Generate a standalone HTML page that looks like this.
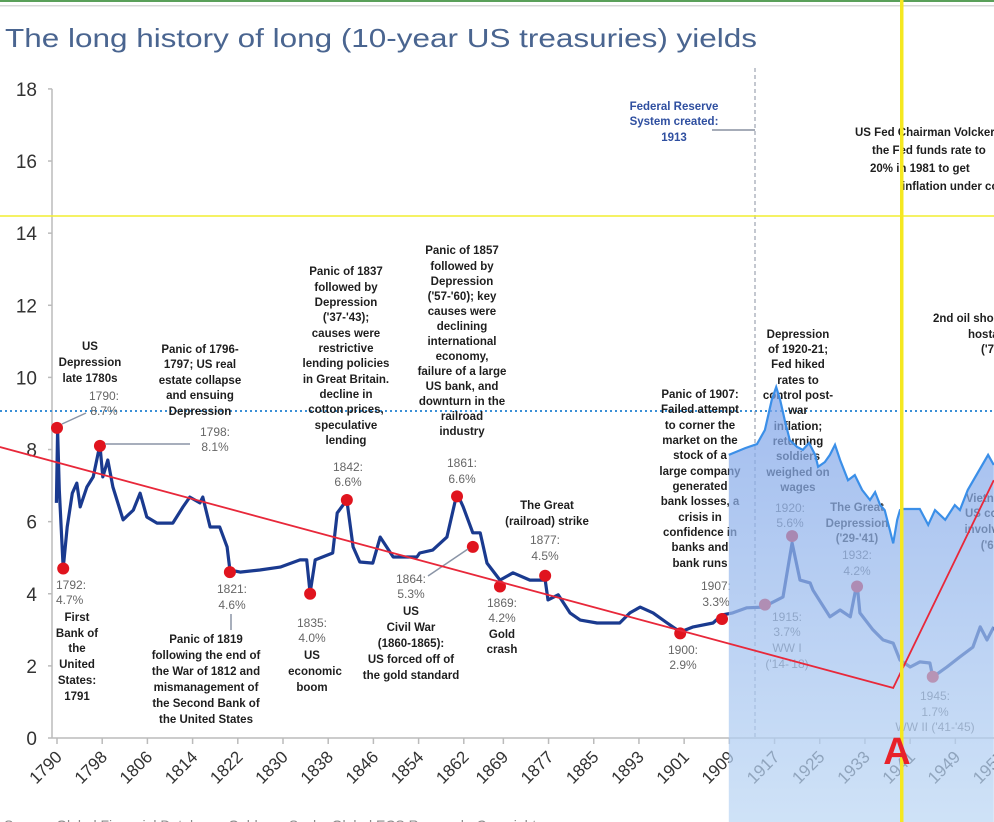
<!DOCTYPE html>
<html><head><meta charset="utf-8"><style>
html,body{margin:0;padding:0;background:#fff;overflow:hidden}
svg{display:block;font-family:"Liberation Sans",Arial,sans-serif}
.ann{font-size:11.5px;font-weight:bold;fill:#1e1e1e;text-anchor:middle}
.lab{font-size:12px;fill:#666;text-anchor:middle}
.fed{font-size:11.5px;font-weight:bold;fill:#2f4fa0;text-anchor:middle}
</style></head><body>
<svg id="chart" width="994" height="822" viewBox="0 0 994 822">
<rect x="0" y="0" width="994" height="2" fill="#5aa05a"/>
<rect x="0" y="5" width="994" height="1.5" fill="#d8d8d8"/>
<text x="5" y="47" font-size="26" fill="#4a6590" textLength="752" lengthAdjust="spacingAndGlyphs">The long history of long (10-year US treasuries) yields</text>
<g id="axes"></g>
<line x1="0" y1="411" x2="994" y2="411" stroke="#3a8fd6" stroke-width="2" stroke-dasharray="2,3"/>
<line x1="755" y1="68" x2="755" y2="738" stroke="#8890a0" stroke-width="1" stroke-dasharray="4,3"/>
<line x1="712" y1="130" x2="755" y2="130" stroke="#8890a0" stroke-width="1.5"/>
<g id="series"></g>
<g>
<text class="fed"><tspan x="674" y="110">Federal Reserve</tspan><tspan x="674" y="125">System created:</tspan><tspan x="674" y="141">1913</tspan></text>
<text class="ann" style="text-anchor:start"><tspan x="855" y="136">US Fed Chairman Volcker raised</tspan><tspan x="872" y="154">the Fed funds rate to</tspan><tspan x="870" y="172">20% in 1981 to get</tspan><tspan x="902" y="190">inflation under control</tspan></text>
<text class="ann" style="text-anchor:start"><tspan x="933" y="322">2nd oil shock;</tspan><tspan x="968" y="338">hostages</tspan><tspan x="981" y="353">('79</tspan></text>
<text class="ann"><tspan x="90" y="350">US</tspan><tspan x="90" y="366">Depression</tspan><tspan x="90" y="382">late 1780s</tspan></text>
<text class="lab"><tspan x="104" y="400">1790:</tspan><tspan x="104" y="415">8.7%</tspan></text>
<line x1="62" y1="424" x2="86" y2="413" stroke="#8a94a6" stroke-width="1.5"/>
<text class="ann"><tspan x="200" y="353">Panic of 1796-</tspan><tspan x="200" y="368">1797; US real</tspan><tspan x="200" y="384">estate collapse</tspan><tspan x="200" y="399">and ensuing</tspan><tspan x="200" y="415">Depression</tspan></text>
<text class="lab"><tspan x="215" y="436">1798:</tspan><tspan x="215" y="451">8.1%</tspan></text>
<line x1="105" y1="444" x2="190" y2="444" stroke="#8a94a6" stroke-width="1.5"/>
<text class="ann"><tspan x="346" y="275">Panic of 1837</tspan><tspan x="346" y="291">followed by</tspan><tspan x="346" y="306">Depression</tspan><tspan x="346" y="321">('37-'43);</tspan><tspan x="346" y="337">causes were</tspan><tspan x="346" y="352">restrictive</tspan><tspan x="346" y="367">lending policies</tspan><tspan x="346" y="383">in Great Britain.</tspan><tspan x="346" y="398">decline in</tspan><tspan x="346" y="413">cotton prices,</tspan><tspan x="346" y="429">speculative</tspan><tspan x="346" y="444">lending</tspan></text>
<text class="lab"><tspan x="348" y="471">1842:</tspan><tspan x="348" y="486">6.6%</tspan></text>
<text class="ann"><tspan x="462" y="254">Panic of 1857</tspan><tspan x="462" y="270">followed by</tspan><tspan x="462" y="285">Depression</tspan><tspan x="462" y="300">('57-'60); key</tspan><tspan x="462" y="315">causes were</tspan><tspan x="462" y="330">declining</tspan><tspan x="462" y="345">international</tspan><tspan x="462" y="360">economy,</tspan><tspan x="462" y="375">failure of a large</tspan><tspan x="462" y="390">US bank, and</tspan><tspan x="462" y="405">downturn in the</tspan><tspan x="462" y="420">railroad</tspan><tspan x="462" y="435">industry</tspan></text>
<text class="lab"><tspan x="462" y="467">1861:</tspan><tspan x="462" y="483">6.6%</tspan></text>
<text class="ann"><tspan x="547" y="509">The Great</tspan><tspan x="547" y="525">(railroad) strike</tspan></text>
<text class="lab"><tspan x="545" y="544">1877:</tspan><tspan x="545" y="560">4.5%</tspan></text>
<text class="ann"><tspan x="700" y="398">Panic of 1907:</tspan><tspan x="700" y="413">Failed attempt</tspan><tspan x="700" y="429">to corner the</tspan><tspan x="700" y="444">market on the</tspan><tspan x="700" y="459">stock of a</tspan><tspan x="700" y="475">large company</tspan><tspan x="700" y="490">generated</tspan><tspan x="700" y="505">bank losses, a</tspan><tspan x="700" y="521">crisis in</tspan><tspan x="700" y="536">confidence in</tspan><tspan x="700" y="551">banks and</tspan><tspan x="700" y="567">bank runs</tspan></text>
<text class="lab"><tspan x="716" y="590">1907:</tspan><tspan x="716" y="606">3.3%</tspan></text>
<text class="ann"><tspan x="798" y="338">Depression</tspan><tspan x="798" y="353">of 1920-21;</tspan><tspan x="798" y="368">Fed hiked</tspan><tspan x="798" y="384">rates to</tspan><tspan x="798" y="399">control post-</tspan><tspan x="798" y="414">war</tspan><tspan x="798" y="430">inflation;</tspan><tspan x="798" y="445">returning</tspan><tspan x="798" y="460">soldiers</tspan><tspan x="798" y="476">weighed on</tspan><tspan x="798" y="491">wages</tspan></text>
<text class="lab"><tspan x="790" y="512">1920:</tspan><tspan x="790" y="527">5.6%</tspan></text>
<text class="ann"><tspan x="857" y="511">The Great</tspan><tspan x="857" y="527">Depression</tspan><tspan x="857" y="542">('29-'41)</tspan></text>
<text class="lab"><tspan x="857" y="559">1932:</tspan><tspan x="857" y="575">4.2%</tspan></text>
<text class="lab"><tspan x="787" y="621">1915:</tspan><tspan x="787" y="636">3.7%</tspan><tspan x="787" y="652">WW I</tspan><tspan x="787" y="668">('14-'18)</tspan></text>
<text class="lab"><tspan x="935" y="700">1945:</tspan><tspan x="935" y="716">1.7%</tspan><tspan x="935" y="731">WW II ('41-'45)</tspan></text>
<text class="ann"><tspan x="990" y="502">Vietnam:</tspan><tspan x="995" y="517">US combat</tspan><tspan x="998" y="533">involvement</tspan><tspan x="1002" y="549">('65-'73)</tspan></text>
<text class="lab" style="text-anchor:start"><tspan x="56" y="589">1792:</tspan><tspan x="56" y="604">4.7%</tspan></text>
<text class="ann"><tspan x="77" y="621">First</tspan><tspan x="77" y="637">Bank of</tspan><tspan x="77" y="652">the</tspan><tspan x="77" y="668">United</tspan><tspan x="77" y="684">States:</tspan><tspan x="77" y="700">1791</tspan></text>
<text class="lab"><tspan x="232" y="593">1821:</tspan><tspan x="232" y="609">4.6%</tspan></text>
<line x1="231" y1="614" x2="231" y2="630" stroke="#8a94a6" stroke-width="1.5"/>
<text class="ann"><tspan x="206" y="643">Panic of 1819</tspan><tspan x="206" y="659">following the end of</tspan><tspan x="206" y="675">the War of 1812 and</tspan><tspan x="206" y="691">mismanagement of</tspan><tspan x="206" y="707">the Second Bank of</tspan><tspan x="206" y="723">the United States</tspan></text>
<text class="lab"><tspan x="312" y="627">1835:</tspan><tspan x="312" y="642">4.0%</tspan></text>
<text class="ann"><tspan x="312" y="659">US</tspan><tspan x="315" y="675">economic</tspan><tspan x="312" y="691">boom</tspan></text>
<text class="lab"><tspan x="411" y="583">1864:</tspan><tspan x="411" y="598">5.3%</tspan></text>
<line x1="468" y1="549" x2="428" y2="576" stroke="#8a94a6" stroke-width="1.5"/>
<text class="ann"><tspan x="411" y="615">US</tspan><tspan x="411" y="631">Civil War</tspan><tspan x="411" y="647">(1860-1865):</tspan><tspan x="411" y="663">US forced off of</tspan><tspan x="411" y="679">the gold standard</tspan></text>
<text class="lab"><tspan x="502" y="607">1869:</tspan><tspan x="502" y="622">4.2%</tspan></text>
<text class="ann"><tspan x="502" y="638">Gold</tspan><tspan x="502" y="653">crash</tspan></text>
<text class="lab"><tspan x="683" y="654">1900:</tspan><tspan x="683" y="669">2.9%</tspan></text>
</g>
<g id="overlay"></g>
<g id="trend"></g>
<line x1="0" y1="216" x2="994" y2="216" stroke="#f2ee30" stroke-width="1.5"/>
<rect x="900" y="0" width="3.5" height="822" fill="#f5e820"/>
<text x="897" y="764" font-size="38" font-weight="bold" fill="#e8222a" text-anchor="middle">A</text>
<text x="4" y="830" font-size="14" fill="#888">Source: Global Financial Database, Goldman Sachs Global ECS Research. Copyright ...</text>
</svg>
<script>
const yTicks = [0, 2, 4, 6, 8, 10, 12, 14, 16, 18];
const xTickYears = [1790,1798,1806,1814,1822,1830,1838,1846,1854,1862,1869,1877,1885,1893,1901,1909,1917,1925,1933,1941,1949,1957];
const yieldYears = [1789.9,1790.1,1790.4,1791.1,1791.8,1792.7,1793.5,1794.1,1795.3,1796.4,1797.6,1798.1,1799.0,1799.9,1801.7,1803.5,1804.7,1805.9,1807.7,1810.5,1812.3,1813.5,1815.3,1815.8,1817.1,1818.8,1820.1,1820.6,1822.4,1825.9,1829.5,1833.0,1834.2,1834.8,1835.7,1838.8,1839.6,1841.3,1842.4,1843.6,1845.9,1847.2,1849.5,1853.7,1854.2,1856.5,1859.0,1860.8,1861.9,1863.6,1864.9,1866.1,1868.4,1870.7,1873.7,1876.4,1876.9,1878.7,1880.8,1882.6,1885.6,1889.6,1891.4,1893.2,1895.5,1898.0,1900.3,1902.6,1906.1,1907.7,1909.6,1912.1,1915.0,1918.5,1920.1,1921.5,1923.3,1923.8,1926.8,1928.6,1930.4,1931.6,1932.1,1934.4,1936.2,1938.0,1939.2,1941.0,1942.7,1944.5,1945.0,1947.5,1949.8,1952.1,1953.4,1954.6,1955.8];
const yieldValues = [6.52,8.54,6.88,4.71,5.85,6.79,7.07,6.41,6.96,7.24,8.13,7.24,7.71,6.96,6.05,6.32,6.79,6.13,5.96,5.96,6.41,6.68,6.52,6.68,5.85,5.85,5.30,4.66,4.60,4.66,4.74,4.94,4.94,4.02,4.94,5.13,6.24,6.60,5.30,4.88,4.85,5.57,5.02,5.02,5.13,5.21,5.57,6.79,6.41,5.69,5.69,4.85,4.38,4.58,4.38,4.38,3.83,3.97,3.47,3.27,3.19,3.19,3.47,3.63,3.47,3.19,2.94,3.08,3.19,3.41,3.47,3.61,3.63,3.91,5.41,4.38,4.30,4.10,3.36,3.55,3.36,4.30,3.47,3.00,2.72,2.63,2.16,1.97,2.11,2.08,1.69,1.97,2.25,2.52,3.08,2.72,3.08];
const eventYears = [1790.0,1791.1,1797.6,1820.6,1834.8,1841.3,1860.8,1863.6,1868.4,1876.4,1900.3,1907.7,1915.3,1920.1,1931.6,1945.0];
const eventValues = [8.6,4.7,8.1,4.6,4.0,6.6,6.7,5.3,4.2,4.5,2.9,3.3,3.7,5.6,4.2,1.7];
const overlayYears = [1908.9,1911.8,1913.9,1915.3,1916.5,1917.3,1918.0,1918.8,1919.7,1921.0,1922.0,1923.1,1924.2,1924.7,1925.9,1926.8,1927.7,1928.6,1930.0,1931.2,1932.5,1933.9,1934.8,1935.7,1936.5,1937.4,1938.0,1938.7,1939.2,1939.7,1942.7,1944.2,1945.4,1947.2,1948.9,1949.8,1951.2,1954.8,1955.8];
const overlayValues = [7.85,8.04,8.15,8.54,9.37,9.73,9.37,8.82,8.26,8.07,7.99,8.18,7.85,7.52,7.65,7.85,8.13,7.71,7.15,7.29,6.88,6.60,6.82,6.46,6.32,5.77,5.40,6.05,6.32,6.35,6.35,5.91,6.32,6.05,6.46,6.32,6.88,7.85,7.57];
const trendYears = [1779.9,1938.0,1955.8];
const trendValues = [8.07,1.39,7.15];

const NS = "http://www.w3.org/2000/svg";
const X0 = 57, PXY = 5.65, Y0 = 738, PXV = 36.06;
function xs(yr){ return X0 + (yr - 1790) * PXY; }
function ys(v){ return Y0 - v * PXV; }
function mk(tag, attrs, parent){ const e = document.createElementNS(NS, tag); for (const k in attrs) e.setAttribute(k, attrs[k]); parent.appendChild(e); return e; }

const axes = document.getElementById('axes');
const yAxis = mk('line', {x1:52, y1:ys(18), x2:52, y2:Y0, stroke:'#bbb', 'stroke-width':1.5}, axes);


const xAxis = mk('line', {x1:52, y1:Y0, x2:994, y2:Y0, stroke:'#bbb', 'stroke-width':1.5}, axes);


yTicks.forEach(v => {
  const t = mk('line', {x1:48, y1:ys(v), x2:52, y2:ys(v), stroke:'#bbb', 'stroke-width':1.5}, axes);
  
  
  const l = mk('text', {x:37, y:ys(v)+7, 'font-size':19, fill:'#333', 'text-anchor':'end'}, axes);
  l.textContent = v;
  
  
});
xTickYears.forEach(yr => {
  const x = xs(yr);
  const t = mk('line', {x1:x, y1:Y0, x2:x, y2:Y0+6, stroke:'#bbb', 'stroke-width':1.5}, axes);
  
  
  const l = mk('text', {x:x+6, y:Y0+20, 'font-size':17, fill:'#333', 'text-anchor':'end', transform:'rotate(-45 '+(x+6)+' '+(Y0+20)+')'}, axes);
  l.textContent = yr;
  
  
});

const series = document.getElementById('series');
const pts = yieldYears.map((yr,i) => xs(yr).toFixed(1)+','+ys(yieldValues[i]).toFixed(1)).join(' ');
const line = mk('polyline', {points:pts, fill:'none', stroke:'#1a3a8f', 'stroke-width':3.2, 'stroke-linejoin':'round'}, series);


eventYears.forEach((yr,i) => {
  const c = mk('circle', {cx:xs(yr), cy:ys(eventValues[i]), r:6, fill:'#e0141e'}, series);
  
  
});

const overlay = document.getElementById('overlay');
const defs = mk('defs', {}, overlay);
const grad = mk('linearGradient', {id:'ovg', x1:0, y1:0, x2:0, y2:1}, defs);
mk('stop', {offset:'0', 'stop-color':'#7ea3e8'}, grad);
mk('stop', {offset:'1', 'stop-color':'#bcd7f4'}, grad);
const topPts = overlayYears.map((yr,i) => xs(yr).toFixed(1)+','+ys(overlayValues[i]).toFixed(1));
const area = mk('polygon', {points: topPts.join(' ')+' '+xs(overlayYears[overlayYears.length-1]).toFixed(1)+',822 '+xs(overlayYears[0]).toFixed(1)+',822', fill:'url(#ovg)', opacity:0.72}, overlay);


const oline = mk('polyline', {points: topPts.join(' '), fill:'none', stroke:'#3b8fe8', 'stroke-width':2.2}, overlay);



const trend = document.getElementById('trend');
const tl = mk('polyline', {points: trendYears.map((yr,i) => xs(yr).toFixed(1)+','+ys(trendValues[i]).toFixed(1)).join(' '), fill:'none', stroke:'#e8283a', 'stroke-width':1.8}, trend);


</script>
</body></html>
